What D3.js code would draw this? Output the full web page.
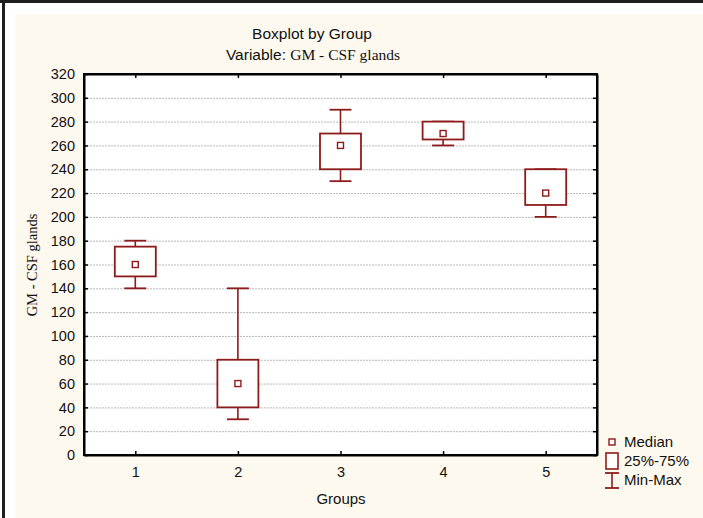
<!DOCTYPE html>
<html>
<head>
<meta charset="utf-8">
<script src="https://cdn.jsdelivr.net/npm/d3@7"></script>
<style>
  html, body { margin: 0; padding: 0; background: #ffffff; }
  svg { display: block; }
</style>
</head>
<body>
<svg id="chart" width="703" height="518"></svg>
<script>
// Group labels and five-number summaries for GM - CSF glands
const groups  = ["1", "2", "3", "4", "5"];
const mins    = [140, 30, 230, 260, 200];
const q1s     = [150, 40, 240, 265, 210];
const medians = [160, 60, 260, 270, 220];
const q3s     = [175, 80, 270, 280, 240];
const maxs    = [180, 140, 290, 280, 240];
const yTicks  = [0, 20, 40, 60, 80, 100, 120, 140, 160, 180, 200, 220, 240, 260, 280, 300, 320];
const legendLabels = ["Median", "25%-75%", "Min-Max"];

const boxColor = "#8e1b1b";
const svg = d3.select("#chart");

// Window frame and cream panel
svg.append("rect").attr("x", 0).attr("y", 0).attr("width", 703).attr("height", 518).attr("fill", "#ffffff");
svg.append("rect").attr("x", 15).attr("y", 14).attr("width", 688).attr("height", 504).attr("fill", "#fdf9ef");
svg.append("rect").attr("x", 0).attr("y", 0).attr("width", 703).attr("height", 3).attr("fill", "#1e1e1e");
svg.append("rect").attr("x", 2).attr("y", 0).attr("width", 3).attr("height", 518).attr("fill", "#1e1e1e");

const plot = { left: 84, right: 597, top: 74, bottom: 455 };

const x = d3.scaleLinear().domain([0.5, 5.5]).range([plot.left, plot.right]);
const y = d3.scaleLinear().domain([0, 320]).range([plot.bottom, plot.top]);

// Plot background
svg.append("rect")
  .attr("x", plot.left).attr("y", plot.top)
  .attr("width", plot.right - plot.left).attr("height", plot.bottom - plot.top)
  .attr("fill", "#ffffff");

// Horizontal grid lines
svg.append("g").selectAll("line")
  .data(yTicks.filter(v => v > 0 && v < 320))
  .join("line")
  .attr("x1", plot.left).attr("x2", plot.right)
  .attr("y1", d => y(d) + 0.5).attr("y2", d => y(d) + 0.5)
  .attr("stroke", "#b8b8b8").attr("stroke-width", 1)
  .attr("stroke-dasharray", "2,1");

// Axes with inward ticks on all four sides
const sans = "Liberation Sans, Arial, sans-serif";
const serif = "Liberation Serif, Times New Roman, serif";
const leftAxis = svg.append("g")
  .attr("transform", `translate(${plot.left},0)`)
  .call(d3.axisLeft(y).tickValues(yTicks).tickSizeInner(-4).tickSizeOuter(0).tickPadding(9));
const bottomAxis = svg.append("g")
  .attr("transform", `translate(0,${plot.bottom})`)
  .call(d3.axisBottom(x).tickValues(groups.map(Number)).tickFormat((d, i) => groups[i])
    .tickSizeInner(-4).tickSizeOuter(0).tickPadding(12));
const rightAxis = svg.append("g")
  .attr("transform", `translate(${plot.right},0)`)
  .call(d3.axisRight(y).tickValues(yTicks).tickSizeInner(-4).tickSizeOuter(0).tickFormat(""));
const topAxis = svg.append("g")
  .attr("transform", `translate(0,${plot.top})`)
  .call(d3.axisTop(x).tickValues(groups.map(Number)).tickSizeInner(-4).tickSizeOuter(0).tickFormat(""));

[leftAxis, bottomAxis, rightAxis, topAxis].forEach(g => {
  g.select(".domain").attr("stroke", "#000").attr("stroke-width", 2);
  g.selectAll(".tick line").attr("stroke", "#000").attr("stroke-width", 1.5);
  g.selectAll("text").attr("font-family", sans).attr("font-size", 14.5).attr("fill", "#111");
});
// Close the frame corners
svg.append("rect")
  .attr("x", plot.left).attr("y", plot.top)
  .attr("width", plot.right - plot.left).attr("height", plot.bottom - plot.top)
  .attr("fill", "none").attr("stroke", "#000").attr("stroke-width", 2);

// Box plots
const boxW = 41, capW = 22, medS = 6;
const gBoxes = svg.append("g");
groups.forEach((g, i) => {
  const cx = x(i + 1);
  // whiskers
  gBoxes.append("line").attr("x1", cx).attr("x2", cx).attr("y1", y(maxs[i])).attr("y2", y(q3s[i]))
    .attr("stroke", boxColor).attr("stroke-width", 1.6);
  gBoxes.append("line").attr("x1", cx).attr("x2", cx).attr("y1", y(q1s[i])).attr("y2", y(mins[i]))
    .attr("stroke", boxColor).attr("stroke-width", 1.6);
  gBoxes.append("line").attr("x1", cx - capW / 2).attr("x2", cx + capW / 2).attr("y1", y(maxs[i])).attr("y2", y(maxs[i]))
    .attr("stroke", boxColor).attr("stroke-width", 1.8);
  gBoxes.append("line").attr("x1", cx - capW / 2).attr("x2", cx + capW / 2).attr("y1", y(mins[i])).attr("y2", y(mins[i]))
    .attr("stroke", boxColor).attr("stroke-width", 1.8);
  // box
  gBoxes.append("rect")
    .attr("x", cx - boxW / 2).attr("y", y(q3s[i]))
    .attr("width", boxW).attr("height", y(q1s[i]) - y(q3s[i]))
    .attr("fill", "#ffffff").attr("stroke", boxColor).attr("stroke-width", 1.8);
  // median marker
  gBoxes.append("rect")
    .attr("x", cx - medS / 2).attr("y", y(medians[i]) - medS / 2)
    .attr("width", medS).attr("height", medS)
    .attr("fill", "#ffffff").attr("stroke", boxColor).attr("stroke-width", 1.4);
});

// Titles
svg.append("text").attr("x", 312).attr("y", 39).attr("text-anchor", "middle")
  .attr("font-family", sans).attr("font-size", 15.5).attr("fill", "#111")
  .text("Boxplot by Group");
const sub = svg.append("text").attr("x", 313).attr("y", 60).attr("text-anchor", "middle")
  .attr("font-size", 15.5).attr("fill", "#111");
sub.append("tspan").attr("font-family", sans).text("Variable: ");
sub.append("tspan").attr("font-family", serif).text("GM - CSF glands");

// Axis titles
svg.append("text").attr("x", 341).attr("y", 504).attr("text-anchor", "middle")
  .attr("font-family", sans).attr("font-size", 15).attr("fill", "#111")
  .text("Groups");
svg.append("text")
  .attr("transform", `translate(37,265) rotate(-90)`)
  .attr("text-anchor", "middle")
  .attr("font-family", serif).attr("font-size", 14.5).attr("fill", "#111")
  .text("GM - CSF glands");

// Legend
const lg = svg.append("g");
const lx = 612;
// median symbol
lg.append("rect").attr("x", lx - 3).attr("y", 439).attr("width", 6).attr("height", 6)
  .attr("fill", "#fff").attr("stroke", boxColor).attr("stroke-width", 1.4);
// box symbol
lg.append("rect").attr("x", lx - 6).attr("y", 453).attr("width", 12).attr("height", 16)
  .attr("fill", "#fff").attr("stroke", boxColor).attr("stroke-width", 1.6);
// whisker symbol
lg.append("line").attr("x1", lx).attr("x2", lx).attr("y1", 473).attr("y2", 488).attr("stroke", boxColor).attr("stroke-width", 1.6);
lg.append("line").attr("x1", lx - 7).attr("x2", lx + 7).attr("y1", 473).attr("y2", 473).attr("stroke", boxColor).attr("stroke-width", 1.8);
lg.append("line").attr("x1", lx - 7).attr("x2", lx + 7).attr("y1", 488).attr("y2", 488).attr("stroke", boxColor).attr("stroke-width", 1.8);
lg.selectAll("text.lab").data(legendLabels).join("text").attr("class", "lab")
  .attr("x", 624).attr("y", (d, i) => 447 + i * 19)
  .attr("font-family", sans).attr("font-size", 15).attr("fill", "#111")
  .text(d => d);
</script>
</body>
</html>
